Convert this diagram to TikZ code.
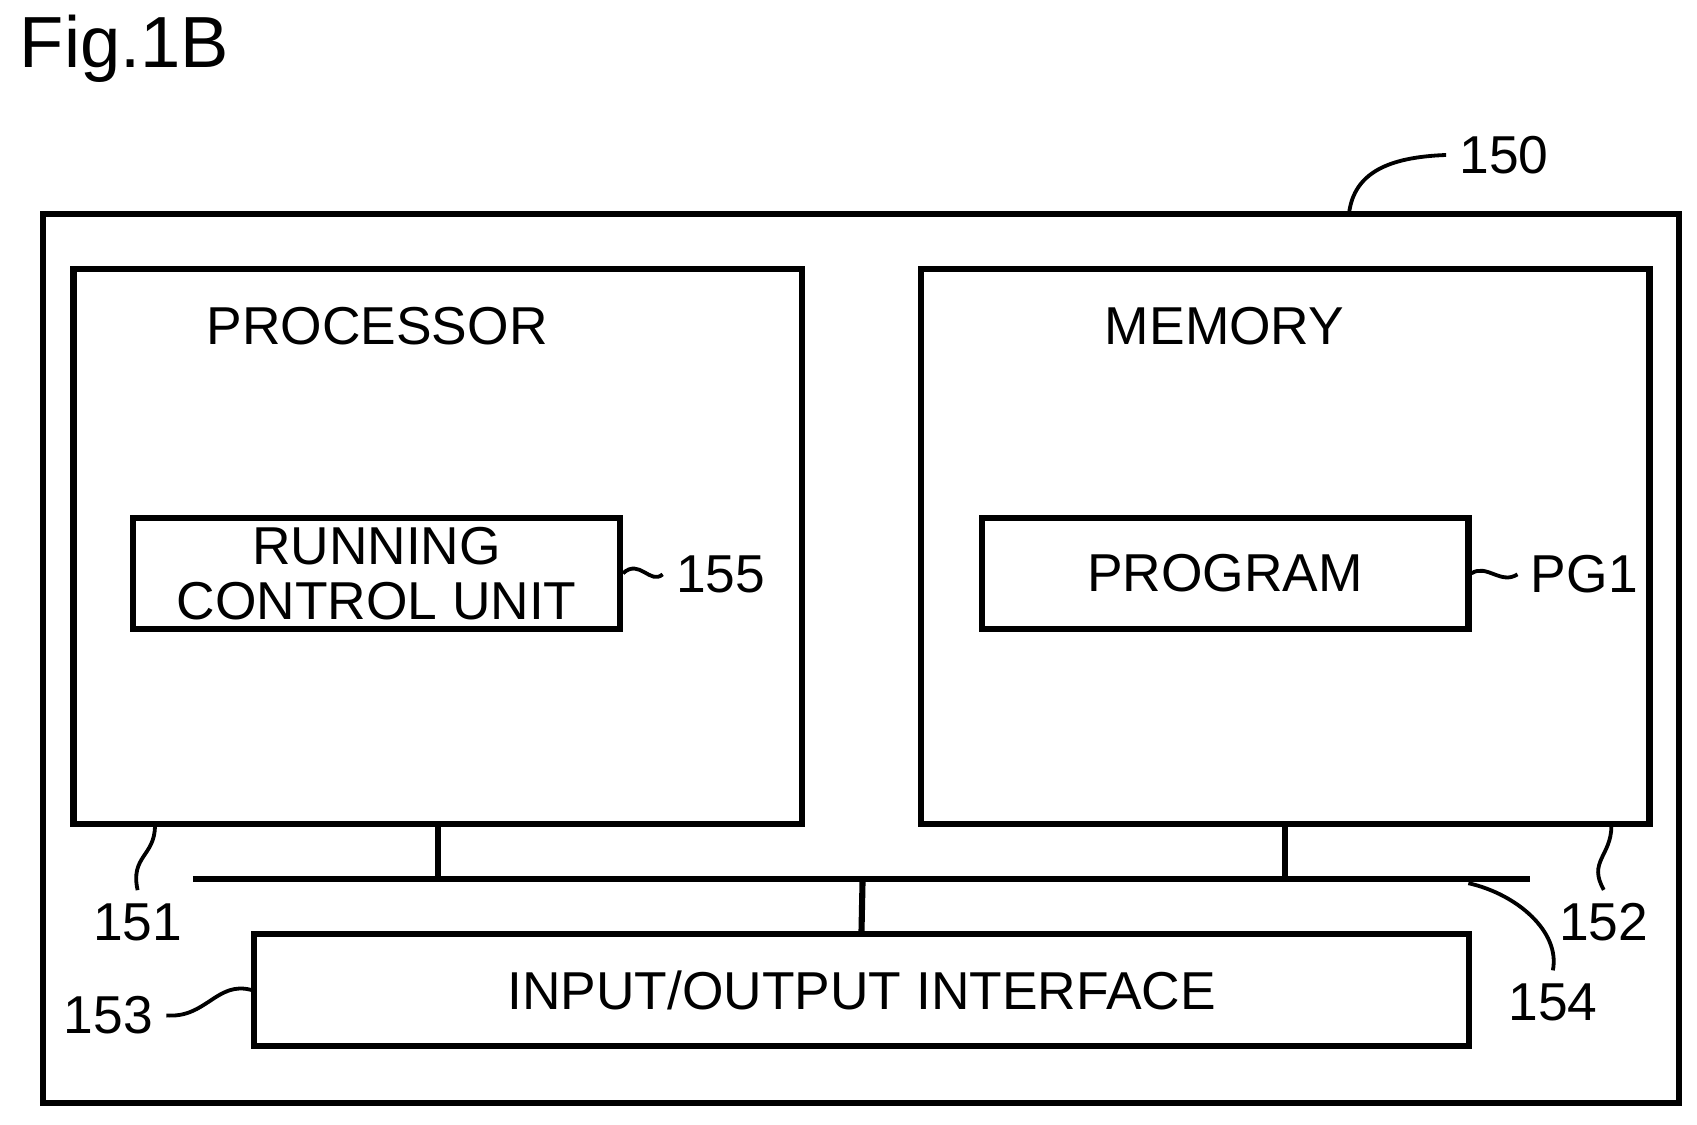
\documentclass[tikz,border=0pt]{standalone}
\usepackage{fontspec}
\setmainfont{Liberation Sans}
\begin{document}
\begin{tikzpicture}[x=0.01cm,y=-0.01cm,
  box/.style={draw,line width=1.6pt,inner sep=0},
  lbl/.style={font=\fontsize{14}{15}\selectfont},
  ln/.style={line width=1.6pt},
  ld/.style={line width=1pt}]
\useasboundingbox (0,0) rectangle (1566,1038);
\node[font=\fontsize{19}{20}\selectfont] (fig) at (115,45) {Fig.1B};
\node[box,minimum width=15.09cm,minimum height=8.2cm] (outer) at (794.5,608) {};
\node[box,minimum width=6.72cm,minimum height=5.12cm] (proc) at (404,504) {};
\node[box,minimum width=6.72cm,minimum height=5.12cm] (mem) at (1186,504) {};
\node[lbl] (proct) at (348,301) {PROCESSOR};
\node[lbl] (memt) at (1130,301) {MEMORY};
\node[box,minimum width=4.49cm,minimum height=1.02cm,align=center,font=\fontsize{14}{14.5}\selectfont] (rcu) at (347.5,529) {RUNNING\\CONTROL UNIT};
\node[box,lbl,minimum width=4.49cm,minimum height=1.02cm] (prog) at (1130.5,529) {PROGRAM};
\node[box,lbl,minimum width=11.2cm,minimum height=1.03cm] (io) at (795,913.5) {INPUT/OUTPUT INTERFACE};
\coordinate (busL) at (178,811);
\coordinate (busR) at (1412,811);
\coordinate (busP) at (404,811);
\coordinate (busM) at (1186,811);
\coordinate (busI) at (796,811);
\draw[ln] (busL) -- (busR);
\draw[ln] (proc.south) -- (busP);
\draw[ln] (mem.south) -- (busM);
\draw[ln] (busI) -- (io.north);
\node[lbl] (n150) at (1388,143) {150};
\node[lbl] (n155) at (665,530) {155};
\node[lbl] (npg) at (1462,530) {PG1};
\node[lbl] (n151) at (127,851) {151};
\node[lbl] (n152) at (1480,851) {152};
\node[lbl] (n154) at (1433,925) {154};
\node[lbl] (n153) at (100,937) {153};
\draw[ld] (1245,196) .. controls (1250,160) and (1280,145) .. (n150.west);
\draw[ld] (rcu.east) .. controls (590,515) and (600,540) .. (n155.west);
\draw[ld] (prog.east) .. controls (1372,520) and (1385,540) .. (npg.west);
\draw[ld] (143,762) .. controls (143,790) and (120,790) .. (n151.north);
\draw[ld] (1487,762) .. controls (1487,790) and (1465,795) .. (n152.north);
\draw[ld] (1355,815) .. controls (1400,825) and (1440,860) .. (n154.north);
\draw[ld] (io.west) .. controls (200,905) and (190,940) .. (n153.east);
\end{tikzpicture}
\end{document}
